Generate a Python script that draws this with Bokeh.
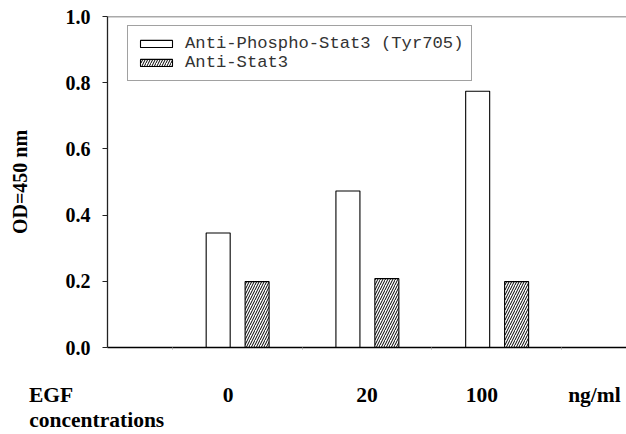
from bokeh.plotting import figure
from bokeh.models import (Range1d, FixedTicker, Legend, LegendItem, Span,
                          ColumnDataSource, LinearAxis)
from bokeh.transform import dodge
from bokeh.embed import file_html
from bokeh.resources import INLINE

# ---- data ----
groups = ["0", "20", "100"]
phospho = [0.346, 0.473, 0.774]
stat3 = [0.199, 0.208, 0.199]
y_ticks = [0.0, 0.2, 0.4, 0.6, 0.8, 1.0]
series_names = ["Anti-Phospho-Stat3 (Tyr705)", "Anti-Stat3"]
x_title_lines = ["EGF", "concentrations"]
unit_label = "ng/ml"

xs = [i + 1 for i in range(len(groups))]

p = figure(width=626, height=434, output_backend="svg", toolbar_location=None,
           x_range=Range1d(0, 4.0), y_range=Range1d(0, 1.0),
           min_border_left=107, min_border_right=0, min_border_top=16,
           min_border_bottom=86)
p.outline_line_color = None
p.grid.visible = False
p.background_fill_color = "white"
p.border_fill_color = "white"

src = ColumnDataSource(dict(x=xs, p=phospho, s=stat3))
bar_w = 0.185
r1 = p.vbar(x=dodge("x", -0.147), top="p", width=bar_w, source=src,
            fill_color="white", line_color="black", line_width=1.1)
r2 = p.vbar(x=dodge("x", 0.153), top="s", width=bar_w, source=src,
            fill_color="white", line_color="black", line_width=1.1,
            hatch_pattern="/", hatch_scale=5, hatch_weight=1, hatch_color="black")

serif_bold = dict(major_label_text_font="Liberation Serif",
                  major_label_text_font_style="bold",
                  major_label_text_color="black")

# y axis
yax = p.yaxis[0]
yax.ticker = FixedTicker(ticks=y_ticks)
yax.major_label_overrides = {t: f"{t:.1f}" for t in y_ticks}
for k, v in serif_bold.items():
    setattr(yax, k, v)
yax.major_label_text_font_size = "20px"
yax.major_tick_out = 5
yax.major_tick_in = 0
yax.minor_tick_out = 0
yax.minor_tick_in = 0
yax.major_label_standoff = 12
yax.axis_line_width = 1.3
yax.axis_line_color = "#222"
yax.major_tick_line_color = "#222"
yax.axis_label = "OD=450 nm"
yax.axis_label_text_font = "Liberation Serif"
yax.axis_label_text_font_style = "bold"
yax.axis_label_text_font_size = "20px"
yax.axis_label_text_color = "black"
yax.axis_label_standoff = 32

# x axis line with small marks at the group boundaries
xax = p.xaxis[0]
xax.ticker = FixedTicker(ticks=[], minor_ticks=[0.5, 1.5, 2.5, 3.5])
xax.major_tick_out = 0
xax.major_tick_in = 0
xax.minor_tick_out = 2
xax.minor_tick_in = 0
xax.minor_tick_line_color = "#aaa"
xax.major_label_standoff = 0
xax.axis_line_width = 1.5
xax.axis_line_color = "black"

# text row under the axis: two-line title (left-aligned by padding), groups, unit
NBSP = "\u00a0"
title_text = (x_title_lines[0] + NBSP * 21) + "\n" + (x_title_lines[1] + NBSP * 4)
row_pos = [0.0] + [x + o for x, o in zip(xs, [-0.07, 0.0, -0.115])] + [3.753]
row_txt = [title_text] + groups + [unit_label]
ax_b = LinearAxis(ticker=FixedTicker(ticks=row_pos),
                  major_label_overrides={pos: t for pos, t in zip(row_pos, row_txt)},
                  major_label_text_font_size="21.5px", major_label_standoff=33,
                  major_label_text_line_height=1.05,
                  axis_line_color=None, major_tick_line_color=None,
                  minor_tick_line_color=None, major_tick_out=0, major_tick_in=0,
                  minor_tick_out=0, minor_tick_in=0, **serif_bold)
p.add_layout(ax_b, "below")

p.add_layout(Span(location=1.0, dimension="width", line_color="#555", line_width=1.5))

legend = Legend(items=[LegendItem(label=series_names[0], renderers=[r1]),
                       LegendItem(label=series_names[1], renderers=[r2])],
                location=(20, 266), orientation="vertical")
legend.label_text_font = "Liberation Mono"
legend.label_text_font_size = "17.2px"
legend.label_text_color = "#333"
legend.border_line_color = "#444"
legend.border_line_width = 1
legend.background_fill_alpha = 1
legend.padding = 8
legend.spacing = 0
legend.margin = 0
legend.glyph_width = 40
legend.glyph_height = 9
legend.label_height = 19
legend.label_standoff = 9
p.add_layout(legend)

open("out.html", "w").write(file_html(p, INLINE))
